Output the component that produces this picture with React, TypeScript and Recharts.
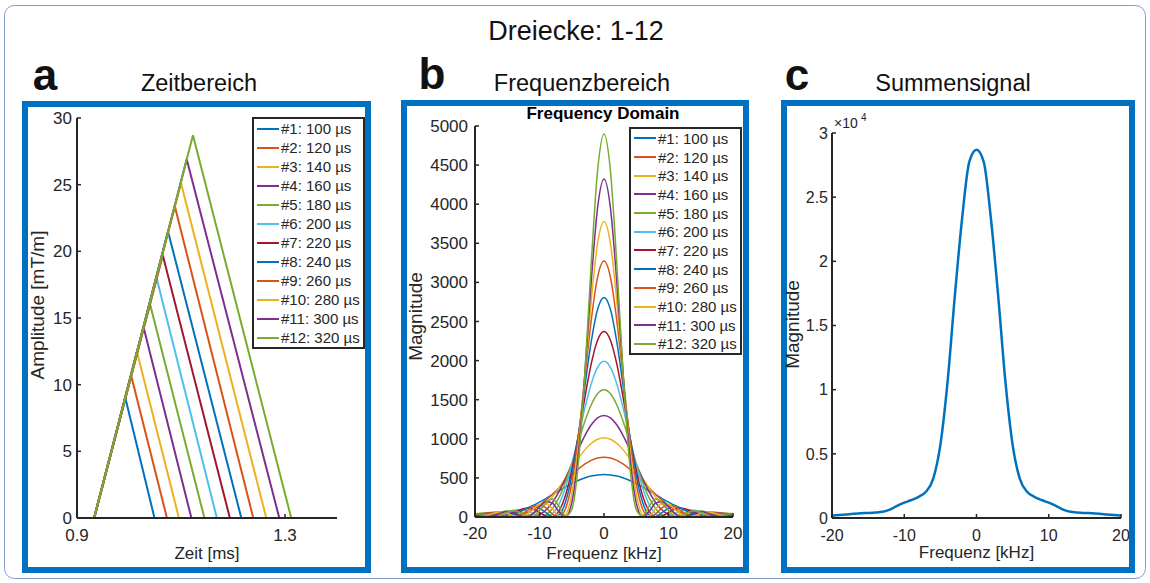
import React from 'react';
import { LineChart, Line, XAxis, YAxis, Legend } from 'recharts';

const FONT = '"Liberation Sans", Arial, Helvetica, sans-serif';
const INK = '#262626';
const PANEL_BLUE = '#0070c0';

// MATLAB default colour order, repeated
const seriesColors = [
  '#0072BD', '#D95319', '#EDB120', '#7E2F8E', '#77AC30', '#4DBEEE',
  '#A2142F', '#0072BD', '#D95319', '#EDB120', '#7E2F8E', '#77AC30',
];
const pulseWidths = [100, 120, 140, 160, 180, 200, 220, 240, 260, 280, 300, 320];
const seriesNames = pulseWidths.map((w, i) => `#${i + 1}: ${w} µs`);

// --- a: Zeitbereich (t in ms, amplitude in mT/m)
const zeitTicks = [0.9, 1.3];
const amplitudeTicks = [0, 5, 10, 15, 20, 25, 30];
const traceStart = 0.9;
const rampStart = 0.933;
const traceEnd = 1.38;
const peakTimes = [0.993, 1.004, 1.015, 1.028, 1.04, 1.053, 1.065, 1.075, 1.088, 1.1, 1.111, 1.123];
const peakAmps = [9.0, 10.7, 12.5, 14.3, 16.1, 18.0, 19.7, 21.5, 23.4, 25.1, 26.9, 28.7];
const fallEnds = [1.049, 1.073, 1.096, 1.12, 1.145, 1.169, 1.194, 1.216, 1.239, 1.264, 1.289, 1.312];

// --- b: Frequenzbereich (kHz)
const freqs = [
  -20, -19, -18, -17, -16, -15, -14, -13, -12, -11, -10, -9, -8, -7, -6, -5, -4, -3, -2, -1, 0,
  1, 2, 3, 4, 5, 6, 7, 8, 9, 10, 11, 12, 13, 14, 15, 16, 17, 18, 19, 20,
];
const freqTicks = [-20, -10, 0, 10, 20];
const magTicks = [0, 500, 1000, 1500, 2000, 2500, 3000, 3500, 4000, 4500, 5000];

const mag1 = [2, 0, 1, 5, 14, 29, 49, 76, 109, 147, 190, 236, 285, 334, 382, 427, 466, 499, 523, 538, 543, 538, 523, 499, 466, 427, 382, 334, 285, 236, 190, 147, 109, 76, 49, 29, 14, 5, 1, 0, 2];
const mag2 = [29, 22, 14, 6, 1, 1, 9, 26, 55, 97, 150, 216, 290, 371, 455, 537, 611, 675, 724, 755, 765, 755, 724, 675, 611, 537, 455, 371, 290, 216, 150, 97, 55, 26, 9, 1, 1, 6, 14, 22, 29];
const mag3 = [46, 48, 45, 37, 25, 12, 2, 1, 12, 41, 91, 164, 258, 370, 495, 623, 746, 855, 940, 994, 1013, 994, 940, 855, 746, 623, 495, 370, 258, 164, 91, 41, 12, 1, 2, 12, 25, 37, 45, 48, 46];
const mag4 = [25, 39, 53, 60, 60, 51, 34, 15, 2, 3, 30, 90, 186, 321, 487, 673, 862, 1035, 1176, 1267, 1299, 1267, 1176, 1035, 862, 673, 487, 321, 186, 90, 30, 3, 2, 15, 34, 51, 60, 60, 53, 39, 25];
const mag5 = [1, 8, 24, 45, 64, 76, 74, 58, 33, 8, 1, 28, 106, 244, 442, 686, 955, 1215, 1432, 1577, 1628, 1577, 1432, 1215, 955, 686, 442, 244, 106, 28, 1, 8, 33, 58, 74, 76, 64, 45, 24, 8, 1];
const mag6 = [12, 2, 1, 12, 35, 63, 86, 94, 80, 48, 13, 1, 41, 159, 370, 666, 1019, 1381, 1698, 1914, 1991, 1914, 1698, 1381, 1019, 666, 370, 159, 41, 1, 13, 48, 80, 94, 86, 63, 35, 12, 1, 2, 12];
const mag7 = [38, 28, 13, 1, 3, 24, 59, 93, 112, 100, 60, 14, 3, 75, 269, 596, 1031, 1512, 1952, 2261, 2372, 2261, 1952, 1512, 1031, 596, 269, 75, 3, 14, 60, 100, 112, 93, 59, 24, 3, 1, 13, 28, 38];
const mag8 = [37, 46, 41, 23, 5, 1, 23, 66, 111, 133, 112, 55, 5, 25, 185, 526, 1039, 1649, 2232, 2654, 2808, 2654, 2232, 1649, 1039, 526, 185, 25, 5, 55, 112, 133, 111, 66, 23, 1, 5, 23, 41, 46, 37];
const mag9 = [12, 33, 51, 52, 32, 9, 1, 25, 79, 134, 154, 116, 40, 1, 100, 426, 1002, 1748, 2502, 3065, 3274, 3065, 2502, 1748, 1002, 426, 100, 1, 40, 116, 154, 134, 79, 25, 1, 9, 32, 52, 51, 33, 12];
const mag10 = [1, 4, 25, 51, 62, 46, 16, 0, 27, 96, 162, 173, 107, 16, 30, 296, 900, 1787, 2749, 3496, 3778, 3496, 2749, 1787, 900, 296, 30, 16, 107, 173, 162, 96, 27, 0, 16, 46, 62, 51, 25, 4, 1];
const mag11 = [25, 7, 1, 20, 53, 71, 54, 17, 1, 43, 130, 199, 178, 69, 1, 181, 782, 1797, 2985, 3950, 4321, 3950, 2985, 1797, 782, 181, 1, 69, 178, 199, 130, 43, 1, 17, 54, 71, 53, 20, 1, 7, 25];
const mag12 = [40, 33, 10, 0, 22, 61, 81, 55, 11, 7, 81, 189, 229, 139, 11, 95, 663, 1789, 3215, 4423, 4897, 4423, 3215, 1789, 663, 95, 11, 139, 229, 189, 81, 7, 11, 55, 81, 61, 22, 0, 10, 33, 40];
const spectra = [mag1, mag2, mag3, mag4, mag5, mag6, mag7, mag8, mag9, mag10, mag11, mag12];

// --- c: Summensignal
const sumMag = [180, 230, 280, 330, 370, 390, 420, 480, 650, 950, 1200, 1400, 1650, 2050, 3050, 5700, 10650, 17300, 23300, 27750, 28700, 27750, 23300, 17300, 10650, 5700, 3050, 2050, 1650, 1400, 1200, 950, 650, 480, 420, 390, 370, 330, 280, 230, 180];
const sumTicks = [0, 5000, 10000, 15000, 20000, 25000, 30000];

const triangles = peakTimes.map((pt, i) => [
  { t: traceStart, v: 0 },
  { t: rampStart, v: 0 },
  { t: pt, v: peakAmps[i] },
  { t: fallEnds[i], v: 0 },
  { t: traceEnd, v: 0 },
]);

const spectrumRows = freqs.map((f, i) => {
  const row: Record<string, number> = { f };
  spectra.forEach((s, k) => { row[`m${k}`] = s[i]; });
  return row;
});
const sumRows = freqs.map((f, i) => ({ f, m: sumMag[i] }));

const tickStyle = { fill: INK, fontSize: 17, fontFamily: FONT };
const axisLineStyle = { stroke: INK, strokeWidth: 2 };
const tickLineStyle = { stroke: INK, strokeWidth: 1.5 };

// axis titles, positioned in the chart's own svg coordinates
const XTitle = ({ viewBox, text, drop }: any) => {
  const vb = viewBox || { x: 0, y: 0, width: 0 };
  return (
    <text x={vb.x + vb.width / 2} y={vb.y + drop} textAnchor="middle" fill={INK} fontSize={17} fontFamily={FONT}>
      {text}
    </text>
  );
};

const YTitle = ({ viewBox, text, base, shift }: any) => {
  const vb = viewBox || { y: 0, height: 0 };
  const cy = vb.y + vb.height / 2 + shift;
  return (
    <text x={base} y={cy} transform={`rotate(-90 ${base} ${cy})`} textAnchor="middle" fill={INK} fontSize={19} fontFamily={FONT}>
      {text}
    </text>
  );
};

const BoxLegend = ({ payload, rowH }: any) => {
  const items = [...(payload || [])].sort(
    (a: any, b: any) => seriesNames.indexOf(a.value) - seriesNames.indexOf(b.value),
  );
  return (
    <div
      style={{
        border: `2px solid ${INK}`, background: '#fff', width: 113, boxSizing: 'border-box',
        padding: '0 0 0 3px', fontFamily: FONT, fontSize: 15, color: INK,
      }}
    >
      {items.map((e: any) => (
        <div key={e.value} style={{ display: 'flex', alignItems: 'center', height: rowH, whiteSpace: 'nowrap' }}>
          <span style={{ width: 22, height: 2, background: e.color, marginRight: 2, flex: 'none' }} />
          <span>{e.value}</span>
        </div>
      ))}
    </div>
  );
};

const ZeitChart = () => (
  <LineChart width={343} height={460} margin={{ top: 11, right: 28, left: 15, bottom: 19 }}>
    <XAxis
      type="number" dataKey="t" domain={[0.9, 1.4]} ticks={zeitTicks} allowDataOverflow
      height={30} axisLine={axisLineStyle} tickLine={tickLineStyle} tickSize={-4} tickMargin={15}
      tick={tickStyle} label={<XTitle text="Zeit [ms]" drop={41} />}
    />
    <YAxis
      type="number" dataKey="v" domain={[0, 30]} ticks={amplitudeTicks} allowDataOverflow
      width={40} axisLine={axisLineStyle} tickLine={tickLineStyle} tickSize={-4} tickMargin={9}
      tick={tickStyle} label={<YTitle text="Amplitude [mT/m]" base={22} shift={-13} />}
    />
    <Legend
      layout="vertical" align="center" verticalAlign="middle"
      wrapperStyle={{ left: 230, top: 10 }}
      content={(p: any) => <BoxLegend {...p} rowH={19} />}
    />
    {triangles.map((d, i) => (
      <Line
        key={seriesNames[i]} data={d} dataKey="v" name={seriesNames[i]} type="linear"
        stroke={seriesColors[i]} strokeWidth={2} dot={false} activeDot={false} isAnimationActive={false}
      />
    ))}
  </LineChart>
);

const FrequenzChart = () => (
  <LineChart width={342} height={461} data={spectrumRows} margin={{ top: 20, right: 10, left: 24, bottom: 20 }}>
    <XAxis
      type="number" dataKey="f" domain={[-20, 20]} ticks={freqTicks} allowDataOverflow
      height={30} axisLine={axisLineStyle} tickLine={tickLineStyle} tickSize={-4} tickMargin={14}
      tick={tickStyle} label={<XTitle text="Frequenz [kHz]" drop={42} />}
    />
    <YAxis
      type="number" domain={[0, 5000]} ticks={magTicks} allowDataOverflow interval={0}
      width={50} axisLine={axisLineStyle} tickLine={tickLineStyle} tickSize={-4} tickMargin={11}
      tick={tickStyle} label={<YTitle text="Magnitude" base={21} shift={-5} />}
    />
    <Legend
      layout="vertical" align="center" verticalAlign="middle"
      wrapperStyle={{ left: 228, top: 21 }}
      content={(p: any) => <BoxLegend {...p} rowH={18.7} />}
    />
    {spectra.map((_, k) => (
      <Line
        key={seriesNames[k]} dataKey={`m${k}`} name={seriesNames[k]} type="monotone"
        stroke={seriesColors[k]} strokeWidth={1.5} dot={false} activeDot={false} isAnimationActive={false}
      />
    ))}
  </LineChart>
);

const SummenChart = () => (
  <LineChart width={348} height={461} data={sumRows} margin={{ top: 27, right: 8, left: 11, bottom: 19 }}>
    <XAxis
      type="number" dataKey="f" domain={[-20, 20]} ticks={freqTicks} allowDataOverflow
      height={30} axisLine={axisLineStyle} tickLine={tickLineStyle} tickSize={-4} tickMargin={16}
      tick={{ ...tickStyle, fontSize: 16 }} label={<XTitle text="Frequenz [kHz]" drop={40} />}
    />
    <YAxis
      type="number" domain={[0, 30000]} ticks={sumTicks} allowDataOverflow interval={0}
      width={40} axisLine={axisLineStyle} tickLine={tickLineStyle} tickSize={-4} tickMargin={8}
      tick={{ ...tickStyle, fontSize: 16 }} tickFormatter={(v: number) => String(v / 10000)}
      label={<YTitle text="Magnitude" base={18} shift={-1} />}
    />
    <Line
      dataKey="m" name="Summe" type="monotone" stroke="#0072BD" strokeWidth={2.5}
      dot={false} activeDot={false} isAnimationActive={false}
    />
  </LineChart>
);

const place = (left: number, top: number): React.CSSProperties => ({ position: 'absolute', left, top });

export default function App() {
  return (
    <div style={{ position: 'absolute', left: 0, top: 0, width: 1150, height: 583, background: '#fff', fontFamily: FONT }}>
      <svg width={1150} height={583} style={{ position: 'absolute', left: 0, top: 0 }}>
        <rect x={4.5} y={5.5} width={1141} height={573} rx={10} fill="none" stroke="#7f9dd3" strokeWidth={1} />
        <text x={576} y={40} textAnchor="middle" fontSize={27} fill="#111" fontFamily={FONT}>Dreiecke: 1-12</text>

        <text x={45} y={90} textAnchor="middle" fontSize={44} fontWeight="bold" fill="#111" fontFamily={FONT}>a</text>
        <text x={432} y={89} textAnchor="middle" fontSize={44} fontWeight="bold" fill="#111" fontFamily={FONT}>b</text>
        <text x={797} y={90} textAnchor="middle" fontSize={44} fontWeight="bold" fill="#111" fontFamily={FONT}>c</text>

        <text x={199} y={91} textAnchor="middle" fontSize={23.5} fill="#111" fontFamily={FONT}>Zeitbereich</text>
        <text x={582} y={91} textAnchor="middle" fontSize={23.5} fill="#111" fontFamily={FONT}>Frequenzbereich</text>
        <text x={953} y={91} textAnchor="middle" fontSize={23.5} fill="#111" fontFamily={FONT}>Summensignal</text>

        <rect x={25} y={104} width={343} height={466} fill="none" stroke={PANEL_BLUE} strokeWidth={6} />
        <rect x={404} y={103} width={342} height={467} fill="none" stroke={PANEL_BLUE} strokeWidth={6} />
        <rect x={784} y={103} width={348} height={467} fill="none" stroke={PANEL_BLUE} strokeWidth={6} />

        <text x={603} y={119} textAnchor="middle" fontSize={17} fontWeight="bold" fill="#000" fontFamily={FONT}>Frequency Domain</text>
        <text x={834} y={128} fontSize={14} fill={INK} fontFamily={FONT}>×10</text>
        <text x={861} y={121} fontSize={10} fill={INK} fontFamily={FONT}>4</text>
      </svg>

      <div style={place(22, 107)}><ZeitChart /></div>
      <div style={place(401, 106)}><FrequenzChart /></div>
      <div style={place(781, 106)}><SummenChart /></div>
    </div>
  );
}
